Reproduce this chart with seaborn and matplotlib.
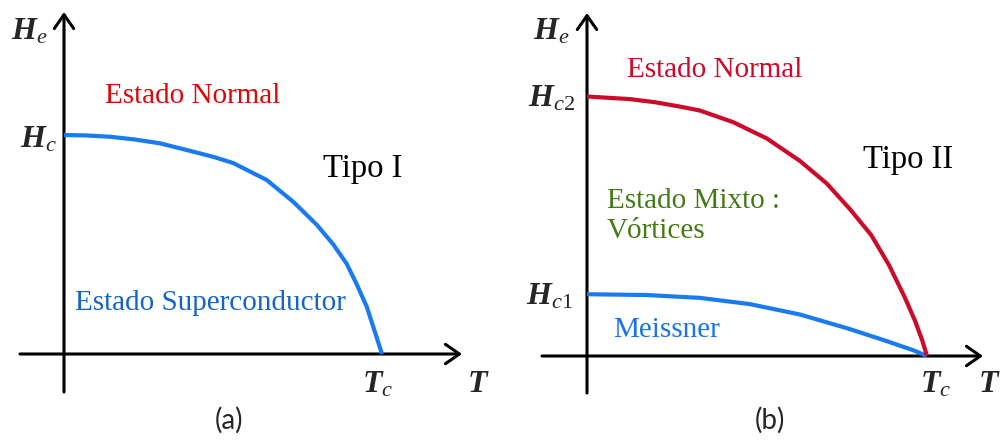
import numpy as np
import pandas as pd
import seaborn as sns
import matplotlib.pyplot as plt

# Critical-field curves, T in units of Tc, H in units of the top critical field
T_type1 = [0.0, 0.07, 0.145, 0.22, 0.302, 0.406, 0.470, 0.532, 0.637, 0.721,
           0.795, 0.847, 0.889, 0.920, 0.952, 0.973, 1.0]
H_c_type1 = [1.0, 0.998, 0.992, 0.980, 0.962, 0.924, 0.900, 0.872, 0.795,
             0.695, 0.590, 0.500, 0.412, 0.320, 0.216, 0.122, 0.0]

T_hc2 = [0.0, 0.126, 0.20, 0.274, 0.332, 0.430, 0.528, 0.626, 0.705, 0.774,
         0.836, 0.888, 0.935, 0.965, 0.986, 1.0]
H_c2 = [1.0, 0.990, 0.978, 0.961, 0.946, 0.901, 0.839, 0.752, 0.665, 0.565,
        0.466, 0.351, 0.225, 0.135, 0.060, 0.0]

T_hc1 = [0.0, 0.176, 0.332, 0.479, 0.626, 0.770, 0.871, 0.960, 1.0]
H_c1 = [0.238, 0.235, 0.224, 0.200, 0.160, 0.105, 0.062, 0.022, 0.0]

BLUE = "#1a7af0"
RED = "#cc0a2a"

sns.set_theme(style="white")
plt.rcParams["font.family"] = ["Liberation Serif", "DejaVu Serif"]
plt.rcParams["mathtext.fontset"] = "custom"
plt.rcParams["mathtext.it"] = "Liberation Serif:italic"
plt.rcParams["mathtext.rm"] = "Liberation Serif"
plt.rcParams["mathtext.bf"] = "Liberation Serif:italic:bold"

W, H = 1005, 441
fig = plt.figure(figsize=(W / 100, H / 100), dpi=100)


def panel(box, origin, unit):
    """Axes spanning a pixel box, with data origin/unit given in pixels."""
    x0, y0, x1, y1 = box
    ox, oy = origin
    ux, uy = unit
    ax = fig.add_axes([x0 / W, 1 - y1 / H, (x1 - x0) / W, (y1 - y0) / H])
    ax.set_xlim((x0 - ox) / ux, (x1 - ox) / ux)
    ax.set_ylim((oy - y1) / uy, (oy - y0) / uy)
    ax.axis("off")
    return ax


def draw_axes(ax):
    xmin, xmax = ax.get_xlim()
    ymin, ymax = ax.get_ylim()
    style = dict(arrowstyle="->,head_length=0.5,head_width=0.35", lw=2.2,
                 color="black", mutation_scale=20, shrinkA=0, shrinkB=0)
    ax.annotate("", xy=(xmax, 0), xytext=(xmin, 0), arrowprops=style,
                annotation_clip=False)
    ax.annotate("", xy=(0, ymax), xytext=(0, ymin), arrowprops=style,
                annotation_clip=False)


def curve(ax, T, Hv, color):
    df = pd.DataFrame({"T": T, "H": Hv})
    sns.lineplot(data=df, x="T", y="H", ax=ax, color=color, lw=3.0,
                 estimator=None, sort=False, zorder=3,
                 solid_capstyle="butt", solid_joinstyle="round")


LBL = 21
TIPO = 23.5
MATH = 23
SANS = dict(family=["Lato", "DejaVu Sans"], fontsize=20)

# ---------------- (a) Type I ----------------
axa = panel((20, 12, 462, 392), (64, 354), (318, 219))
draw_axes(axa)
curve(axa, T_type1, H_c_type1, BLUE)
axa.text(0.129, 1.146, "Estado Normal", color="#d80a0a", fontsize=LBL)
axa.text(0.814, 0.808, "Tipo I", color="black", fontsize=TIPO)
axa.text(0.035, 0.201, "Estado Superconductor", color="#1565c8", fontsize=LBL)
axa.text(-0.050, 1.438, r"$\mathbf{H}_{e}$", fontsize=MATH, ha="right")
axa.text(-0.022, 0.945, r"$\mathbf{H}_{c}$", fontsize=MATH, ha="right")
axa.text(0.937, -0.174, r"$\mathbf{T}_{c}$", fontsize=MATH)
axa.text(1.267, -0.174, r"$\mathbf{T}$", fontsize=MATH)
axa.text(0.519, -0.301, "(a)", ha="center", va="center", **SANS)

# ---------------- (b) Type II ----------------
axb = panel((542, 13, 983, 393), (587, 356), (340, 259.5))
draw_axes(axb)
curve(axb, T_hc1, H_c1, BLUE)
curve(axb, T_hc2, H_c2, RED)
axb.text(0.118, 1.075, "Estado Normal", color=RED, fontsize=LBL)
axb.text(0.812, 0.724, "Tipo II", color="black", fontsize=TIPO)
axb.text(0.059, 0.570, "Estado Mixto :", color="#437a14", fontsize=LBL)
axb.text(0.059, 0.455, "Vórtices", color="#437a14", fontsize=LBL)
axb.text(0.076, 0.073, "Meissner", color="#1a73e8", fontsize=LBL)
axb.text(-0.050, 1.218, r"$\mathbf{H}_{e}$", fontsize=MATH, ha="right")
axb.text(-0.035, 0.960, r"$\mathbf{H}_{\mathit{c2}}$", fontsize=MATH, ha="right")
axb.text(-0.041, 0.197, r"$\mathbf{H}_{\mathit{c1}}$", fontsize=MATH, ha="right")
axb.text(0.979, -0.139, r"$\mathbf{T}_{c}$", fontsize=MATH)
axb.text(1.150, -0.139, r"$\mathbf{T}$", fontsize=MATH)
axb.text(0.538, -0.247, "(b)", ha="center", va="center", **SANS)

fig.savefig("out.png", dpi=100, facecolor="white")
